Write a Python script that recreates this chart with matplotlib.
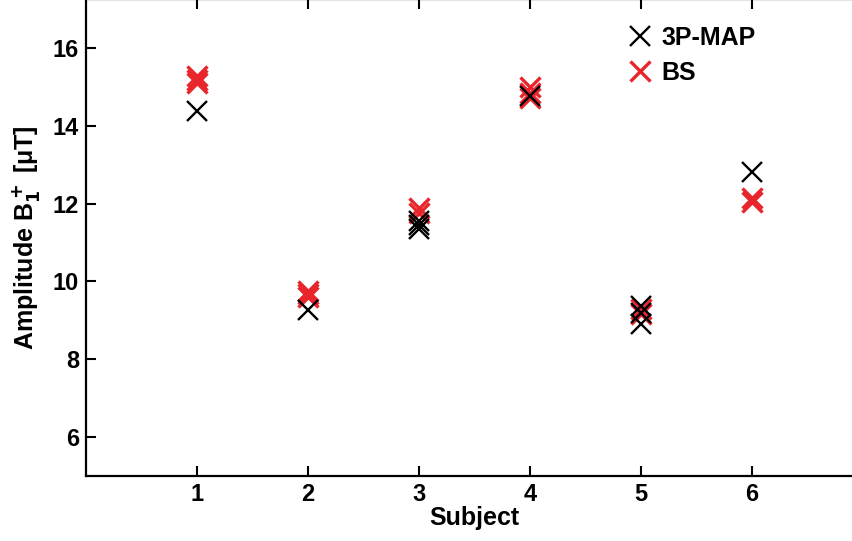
import matplotlib.pyplot as plt

subj_map = [1, 2, 3, 3, 3, 4, 5, 5, 5, 6]
amp_map = [14.37, 9.27, 11.35, 11.45, 11.55, 14.77, 8.9, 9.2, 9.37, 12.8]

subj_bs = [1, 1, 1, 2, 2, 2, 3, 3, 4, 4, 4, 5, 5, 6, 6]
amp_bs = [15.1, 15.18, 15.27, 9.6, 9.68, 9.75, 11.75, 11.88, 14.7, 14.85, 15.0, 9.15, 9.3, 12.05, 12.15]

plt.rcParams['font.family'] = ['Liberation Sans', 'DejaVu Sans']
plt.rcParams['font.weight'] = 'bold'
plt.rcParams['mathtext.default'] = 'bf'

fig = plt.figure(figsize=(8.52, 5.41), dpi=100)
ax = fig.add_axes([0.101, 0.120, 0.912, 0.881])

ax.plot(subj_bs, amp_bs, 'x', color='#e8252a', ms=14, mew=2.4, label='BS', zorder=2)
ax.plot(subj_map, amp_map, 'x', color='black', ms=14, mew=1.7, label='3P-MAP', zorder=3)

ax.set_xlim(0, 7)
ax.set_ylim(5, 17.24)
ax.set_xticks([1, 2, 3, 4, 5, 6])
ax.set_yticks([6, 8, 10, 12, 14, 16])
ax.tick_params(direction='in', top=True, right=True, labelsize=17, width=1.5, length=7, pad=5)
for s in ax.spines.values():
    s.set_linewidth(1.6)

ax.set_xlabel('Subject', fontsize=18, fontweight='bold', labelpad=0)
ax.set_ylabel('Amplitude B$_1^+$ [\u03bcT]', fontsize=18, fontweight='bold', labelpad=8)

h, l = ax.get_legend_handles_labels()
ax.legend(h[::-1], l[::-1], loc='upper left', bbox_to_anchor=(0.668, 0.992), frameon=False,
          fontsize=18, handletextpad=0.35, labelspacing=0.45, handlelength=1.0)

fig.savefig('out.png', dpi=100)
